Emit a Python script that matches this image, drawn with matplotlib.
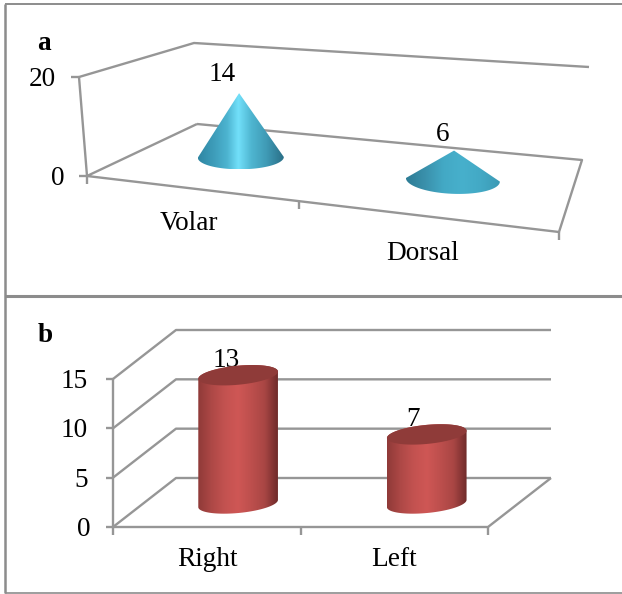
import matplotlib
matplotlib.use("Agg")
import matplotlib.pyplot as plt
import numpy as np
from matplotlib.colors import LinearSegmentedColormap
from matplotlib.patches import Polygon

plt.rcParams['font.family'] = ['Liberation Serif', 'DejaVu Serif']

# chart data
site_labels = ['Volar', 'Dorsal']
site_values = [14, 6]
site_ticks = [0, 20]

side_labels = ['Right', 'Left']
side_values = [13, 7]
side_ticks = [0, 5, 10, 15]

GRID = '#969696'
FRAME = '#8c8c8c'
FS = 19.6

cone_cmap = LinearSegmentedColormap.from_list(
    'cone', [(0, '#2f86a3'), (0.2, '#3f9fbc'), (0.34, '#4db4d0'), (0.47, '#72e0fa'),
             (0.62, '#4fb6d1'), (0.8, '#3f9ab5'), (1, '#2a6f87')])
flat_cone_cmap = LinearSegmentedColormap.from_list(
    'flat_cone', ['#2d7c95', '#3a90ab', '#43a9c5', '#47b0cc', '#43a9c5', '#3b9ab5'])
cyl_cmap = LinearSegmentedColormap.from_list(
    'cyl', ['#8f3a38', '#ad4846', '#c35250', '#cf5755', '#bd4f4d', '#a94644', '#6f2b2a'])

fig = plt.figure(figsize=(6.22, 5.94), dpi=100)
ax = fig.add_axes([0, 0, 1, 1])
ax.set_axis_off()


def ellipse(cx, cy, a, b, tilt, start, stop):
    # tilt in degrees, y axis points down on the canvas
    th = np.radians(tilt)
    t = np.linspace(start, stop, 80)
    x = cx + a * np.cos(t) * np.cos(th) + b * np.sin(t) * np.sin(th)
    y = cy - a * np.cos(t) * np.sin(th) + b * np.sin(t) * np.cos(th)
    return np.column_stack([x, y])


def tangent_angle(a, b, tilt):
    th = np.radians(tilt)
    return np.arctan2(b * np.sin(th), a * np.cos(th))


def shaded(pts, cmap, zorder):
    patch = Polygon(pts, closed=True, fc='none', ec='none', zorder=zorder)
    ax.add_patch(patch)
    x0, x1 = pts[:, 0].min(), pts[:, 0].max()
    y0, y1 = pts[:, 1].min(), pts[:, 1].max()
    im = ax.imshow(np.linspace(0, 1, 256)[None, :], extent=(x0, x1, y1, y0),
                   cmap=cmap, aspect='auto', zorder=zorder, interpolation='bilinear')
    im.set_clip_path(patch)


def line(pts, color=GRID, lw=1.7):
    pts = np.array(pts)
    ax.plot(pts[:, 0], pts[:, 1], color=color, lw=lw, solid_capstyle='butt', zorder=2)


# outer frames
line([(5, 4), (622, 4)], FRAME, 1.4)
line([(5, 4), (5, 593)], FRAME, 1.8)
line([(5, 295.5), (622, 295.5)], FRAME, 2.2)
line([(5, 593), (622, 593)], FRAME, 1.2)

# panel a: cones on a floor seen in perspective
floor_fl, floor_fr = np.array([87., 176.]), np.array([559., 232.])
floor_bl, floor_br = np.array([197., 124.]), np.array([582., 160.])
rise_f = (np.array([-8., -99.]), np.array([8., -110.]))
rise_b = (np.array([-3., -81.]), np.array([7., -93.]))
top_a = site_ticks[-1]


def project_a(u, d, value):
    front = floor_fl + (floor_fr - floor_fl) * u
    back = floor_bl + (floor_br - floor_bl) * u
    rise = (rise_f[0] + (rise_f[1] - rise_f[0]) * u) * (1 - d) \
        + (rise_b[0] + (rise_b[1] - rise_b[0]) * u) * d
    return front + (back - front) * d + rise * value / top_a


line([project_a(0, 1, 0), project_a(1, 1, 0), project_a(1, 0, 0), project_a(0, 0, 0), project_a(0, 1, 0)])
line([project_a(0, 0, top_a), project_a(0, 1, top_a), project_a(1, 1, top_a)])
line([project_a(0, 0, 0), project_a(0, 0, top_a)])

for v in site_ticks:
    p = project_a(0, 0, v)
    line([p, p + (-8, 0)])
    ax.text(p[0] - 23, p[1] + 2.5, str(v), ha='right', va='center', fontsize=FS)
# middle tick sits left of halfway because of the perspective
for u in [0, 0.45, 1]:
    p = project_a(u, 0, 0)
    line([p, p + (0, 8)])

cone_u = [0.22, 0.72]
cone_d = 0.55
cone_sizes = [(43, 12, 0.5), (47, 14, -2.4)]
cone_maps = [cone_cmap, flat_cone_cmap]
label_pos_a = [(189, 224), (423, 253)]
value_off_a = [(-17, -19), (-11, -16)]

for i, v in enumerate(site_values):
    base = project_a(cone_u[i], cone_d, 0)
    apex = project_a(cone_u[i], cone_d, v)
    a, b, tilt = cone_sizes[i]
    t0 = tangent_angle(a, b, tilt)
    pts = np.vstack([ellipse(base[0], base[1], a, b, tilt, t0, t0 + np.pi), apex])
    shaded(pts, cone_maps[i], 3)
    ax.text(apex[0] + value_off_a[i][0], apex[1] + value_off_a[i][1], str(v),
            ha='center', va='center', fontsize=FS, zorder=4)
    ax.text(label_pos_a[i][0], label_pos_a[i][1], site_labels[i], ha='center', va='center', fontsize=FS)

ax.text(44, 44, 'a', ha='center', va='center', fontsize=FS, fontweight='bold')

# panel b: cylinders, oblique box
origin_b = np.array([113., 527.])
width_b = 375.
depth_b = np.array([63., -49.])
unit_b = 148. / side_ticks[-1]


def project_b(u, d, value):
    return origin_b + np.array([width_b * u, -unit_b * value]) + depth_b * d


for v in side_ticks:
    line([project_b(0, 0, v), project_b(0, 1, v), project_b(1, 1, v)])
    p = project_b(0, 0, v)
    line([p, p + (-7, 0)])
    ax.text(p[0] - (23 if v == 0 else 25), p[1] + 2.5, str(v), ha='right', va='center', fontsize=FS)
line([project_b(0, 0, 0), project_b(0, 0, side_ticks[-1])])
line([project_b(0, 0, 0), project_b(1, 0, 0), project_b(1, 1, 0)])
for u in [0, 0.5, 1]:
    p = project_b(u, 0, 0)
    line([p, p + (0, 8)])

cyl_u = [0.253, 0.756]
cyl_d = 0.48
cyl_a, cyl_b, cyl_tilt = 40, 9.5, 5.5
label_pos_b = [(207, 559), (394, 559)]
value_off_b = [-12, -14]

for i, v in enumerate(side_values):
    bottom = project_b(cyl_u[i], cyl_d, 0)
    top = project_b(cyl_u[i], cyl_d, v)
    t0 = tangent_angle(cyl_a, cyl_b, cyl_tilt)
    low = ellipse(bottom[0], bottom[1], cyl_a, cyl_b, cyl_tilt, t0, t0 + np.pi)
    up = ellipse(top[0], top[1], cyl_a, cyl_b, cyl_tilt, t0 + np.pi, t0 + 2 * np.pi)
    ax.text(top[0] + value_off_b[i], top[1] - 15, str(v), ha='center', va='center', fontsize=FS, zorder=2.5)
    shaded(np.vstack([low, up]), cyl_cmap, 3)
    cap = ellipse(top[0], top[1], cyl_a, cyl_b, cyl_tilt, 0, 2 * np.pi)
    ax.add_patch(Polygon(cap, closed=True, fc='#8f3b39', ec='none', zorder=3.5))
    ax.text(label_pos_b[i][0], label_pos_b[i][1], side_labels[i], ha='center', va='center', fontsize=FS)

ax.text(45, 336, 'b', ha='center', va='center', fontsize=FS, fontweight='bold')

ax.set_xlim(0, 622)
ax.set_ylim(594, 0)
fig.savefig('out.png', dpi=100)
